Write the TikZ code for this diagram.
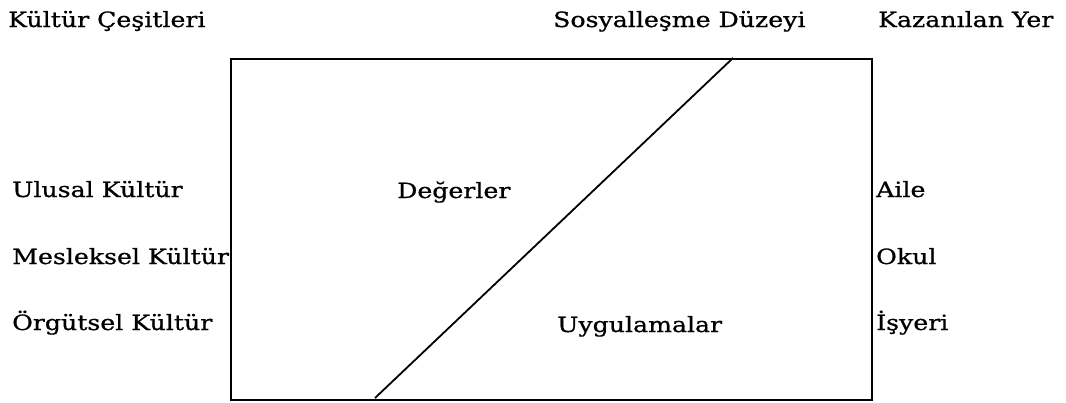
\documentclass[tikz,border=0pt]{standalone}
\usepackage{fontspec}
\setmainfont[FakeStretch=1.2,FakeBold=0.8]{DejaVu Serif}
\begin{document}
\begin{tikzpicture}[x=1pt,y=-1pt,
  lbl/.style={anchor=base west,inner sep=0pt,font=\fontsize{21}{25}\selectfont},
  frame/.style={draw=black,line width=2.4pt},
  split/.style={draw=black,line width=1.8pt}]
\useasboundingbox (0,0) rectangle (1066,402);
\node[frame,minimum width=641pt,minimum height=341pt,anchor=north west,inner sep=0pt] (box) at (230,58) {};
\coordinate (lo) at (375,398);
\coordinate (hi) at (733,58);
\draw[split] (lo) -- (hi);
\node[lbl] (kc) at (8,27) {Kültür Çeşitleri};
\node[lbl] (sd) at (553,27) {Sosyalleşme Düzeyi};
\node[lbl] (ky) at (878,27) {Kazanılan Yer};
\node[lbl] (uk) at (12,197) {Ulusal Kültür};
\node[lbl] (mk) at (12,264) {Mesleksel Kültür};
\node[lbl] (ok) at (12,330) {Örgütsel Kültür};
\node[lbl] (dg) at (397,198) {Değerler};
\node[lbl] (ug) at (557,332) {Uygulamalar};
\node[lbl] (ai) at (876,197) {Aile};
\node[lbl] (ol) at (876,264) {Okul};
\node[lbl] (is) at (876,330) {İşyeri};
\end{tikzpicture}
\end{document}
